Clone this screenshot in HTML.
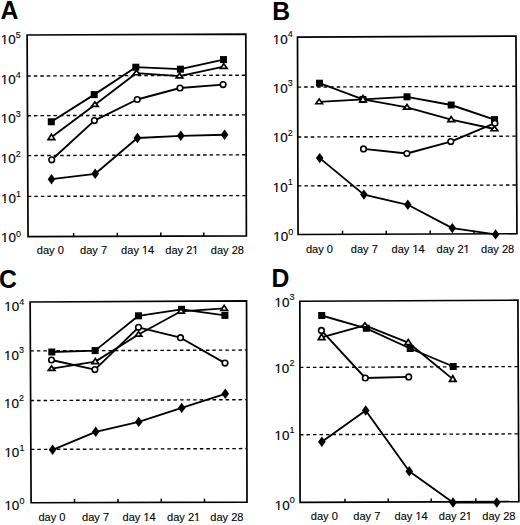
<!DOCTYPE html>
<html><head><meta charset="utf-8"><style>
html,body{margin:0;padding:0;background:#fff;}
body{width:520px;height:525px;overflow:hidden;}
svg{display:block;}
text{font-family:"Liberation Sans",sans-serif;fill:#000;}
.lt{font-size:25.8px;font-weight:bold;}
.yl{font-size:13.4px;stroke:#000;stroke-width:0.15px;}
.sup{font-size:9px;stroke-width:0.1px;}
.xl{font-size:11.4px;stroke:#000;stroke-width:0.12px;}
</style></head><body>
<svg width="520" height="525" viewBox="0 0 520 525">
<rect width="520" height="525" fill="#fff"/>
<defs><clipPath id="c10"><path clip-rule="evenodd" d="M-10 -30H60V10H-10Z M0.26 -1.35H3.29V3H0.26Z M4.63 -1.35H8.18V3H4.63Z"/></clipPath><clipPath id="c14"><path clip-rule="evenodd" d="M-10 -30H60V10H-10Z M21.74 -1.17H24.32V3H21.74Z M25.45 -1.17H29.31V3H25.45Z"/></clipPath><clipPath id="c21"><path clip-rule="evenodd" d="M-10 -30H60V10H-10Z M28.08 -1.17H30.67V3H28.08Z M31.79 -1.17H35.65V3H31.79Z"/></clipPath></defs><g>
<line x1="27.29" y1="76" x2="245.92" y2="75.2" stroke="#000" stroke-width="1.4" stroke-dasharray="3.5 3.0"/>
<line x1="27.48" y1="115.7" x2="246.04" y2="114.9" stroke="#000" stroke-width="1.4" stroke-dasharray="3.5 3.0"/>
<line x1="27.67" y1="155.6" x2="246.16" y2="154.8" stroke="#000" stroke-width="1.4" stroke-dasharray="3.5 3.0"/>
<line x1="27.86" y1="196.4" x2="246.28" y2="195.6" stroke="#000" stroke-width="1.4" stroke-dasharray="3.5 3.0"/>
<line x1="73.6" y1="236.43" x2="73.62" y2="232.93" stroke="#000" stroke-width="1.5"/>
<line x1="117.3" y1="236.27" x2="117.32" y2="232.77" stroke="#000" stroke-width="1.5"/>
<line x1="160.8" y1="236.11" x2="160.82" y2="232.61" stroke="#000" stroke-width="1.5"/>
<line x1="203.8" y1="235.96" x2="203.82" y2="232.46" stroke="#000" stroke-width="1.5"/>
<path d="M27.1 35L245.8 34.2L246.4 235.8L28.05 236.6Z" fill="none" stroke="#000" stroke-width="1.7" stroke-linejoin="miter"/>
<text transform="translate(0.6 19.1) scale(0.96 1)" class="lt">A</text>
<text transform="translate(0.8 43.9) scale(1 1)"  clip-path="url(#c10)" class="yl">10<tspan class="sup" dx="0.1" dy="-5.9">5</tspan></text>
<text transform="translate(0.8 83.8) scale(1 1)"  clip-path="url(#c10)" class="yl">10<tspan class="sup" dx="0.1" dy="-5.9">4</tspan></text>
<text transform="translate(0.8 122.7) scale(1 1)"  clip-path="url(#c10)" class="yl">10<tspan class="sup" dx="0.1" dy="-5.9">3</tspan></text>
<text transform="translate(0.8 162.6) scale(1 1)"  clip-path="url(#c10)" class="yl">10<tspan class="sup" dx="0.1" dy="-5.9">2</tspan></text>
<text transform="translate(1 202.6) scale(1 1)"  clip-path="url(#c10)" class="yl">10<tspan class="sup" dx="0.1" dy="-5.9">1</tspan></text>
<text transform="translate(1 242.4) scale(1 1)"  clip-path="url(#c10)" class="yl">10<tspan class="sup" dx="0.1" dy="-5.9">0</tspan></text>
<text transform="translate(36.75 253.6) scale(0.97 1)" class="xl">day 0</text>
<text transform="translate(80 253.6) scale(0.97 1)" class="xl">day 7</text>
<text transform="translate(121.1 253.6) scale(0.97 1)" clip-path="url(#c14)" class="xl">day 14</text>
<text transform="translate(165.25 253.6) scale(0.97 1)" clip-path="url(#c21)" class="xl">day 21</text>
<text transform="translate(210.75 253.6) scale(0.97 1)" class="xl">day 28</text>
<polyline points="51.5,179.2 95.2,173.8 137.4,138 180.8,135.8 224.6,134.75" fill="none" stroke="#000" stroke-width="1.85" stroke-linejoin="round"/>
<polyline points="51.3,121.75 94.2,94.6 135.8,67.2 180.4,69.2 223.5,59.6" fill="none" stroke="#000" stroke-width="1.85" stroke-linejoin="round"/>
<polyline points="51.4,137.35 94.9,104.7 136.5,73.05 179.5,76.15 223.8,66.6" fill="none" stroke="#000" stroke-width="1.85" stroke-linejoin="round"/>
<polyline points="51.75,159.8 94.4,120.6 137.2,99.5 180,88 223.1,84.6" fill="none" stroke="#000" stroke-width="1.85" stroke-linejoin="round"/>
<path d="M51.5 174L55.3 179.2L51.5 184.4L47.7 179.2Z" fill="#000"/>
<path d="M95.2 168.6L99 173.8L95.2 179L91.4 173.8Z" fill="#000"/>
<path d="M137.4 132.8L141.2 138L137.4 143.2L133.6 138Z" fill="#000"/>
<path d="M180.8 130.6L184.6 135.8L180.8 141L177 135.8Z" fill="#000"/>
<path d="M224.6 129.55L228.4 134.75L224.6 139.95L220.8 134.75Z" fill="#000"/>
<rect x="47.8" y="118.25" width="7" height="7" fill="#000"/>
<rect x="90.7" y="91.1" width="7" height="7" fill="#000"/>
<rect x="132.3" y="63.7" width="7" height="7" fill="#000"/>
<rect x="176.9" y="65.7" width="7" height="7" fill="#000"/>
<rect x="220" y="56.1" width="7" height="7" fill="#000"/>
<path d="M51.4 134.1L54.7 139.55L48.1 139.55Z" fill="#fff" stroke="#000" stroke-width="1.7" stroke-linejoin="miter"/>
<path d="M94.9 102L98.2 106.35L91.6 106.35Z" fill="#fff" stroke="#000" stroke-width="1.7" stroke-linejoin="miter"/>
<path d="M136.5 70.3L139.8 74.75L133.2 74.75Z" fill="#fff" stroke="#000" stroke-width="1.7" stroke-linejoin="miter"/>
<path d="M179.5 73.3L182.8 77.95L176.2 77.95Z" fill="#fff" stroke="#000" stroke-width="1.7" stroke-linejoin="miter"/>
<path d="M223.8 63.8L227.1 68.35L220.5 68.35Z" fill="#fff" stroke="#000" stroke-width="1.7" stroke-linejoin="miter"/>
<circle cx="51.75" cy="159.8" r="2.8" fill="#fff" stroke="#000" stroke-width="1.6"/>
<circle cx="94.4" cy="120.6" r="2.8" fill="#fff" stroke="#000" stroke-width="1.6"/>
<circle cx="137.2" cy="99.5" r="2.8" fill="#fff" stroke="#000" stroke-width="1.6"/>
<circle cx="180" cy="88" r="2.8" fill="#fff" stroke="#000" stroke-width="1.6"/>
<circle cx="223.1" cy="84.6" r="2.8" fill="#fff" stroke="#000" stroke-width="1.6"/>
</g>
<g>
<line x1="297.64" y1="87.1" x2="516.21" y2="86.23" stroke="#000" stroke-width="1.4" stroke-dasharray="3.5 3.0"/>
<line x1="297.78" y1="137" x2="516.46" y2="136.12" stroke="#000" stroke-width="1.4" stroke-dasharray="3.5 3.0"/>
<line x1="297.91" y1="185.9" x2="516.71" y2="185.02" stroke="#000" stroke-width="1.4" stroke-dasharray="3.5 3.0"/>
<line x1="342.5" y1="234.35" x2="342.52" y2="230.85" stroke="#000" stroke-width="1.5"/>
<line x1="386.25" y1="234.2" x2="386.27" y2="230.7" stroke="#000" stroke-width="1.5"/>
<line x1="430.2" y1="234.05" x2="430.22" y2="230.55" stroke="#000" stroke-width="1.5"/>
<line x1="474" y1="233.9" x2="474.02" y2="230.4" stroke="#000" stroke-width="1.5"/>
<path d="M297.5 37.05L515.95 36.05L516.95 233.75L298.05 234.5Z" fill="none" stroke="#000" stroke-width="1.7" stroke-linejoin="miter"/>
<text transform="translate(272.3 19.6) scale(0.96 1)" class="lt">B</text>
<text transform="translate(272.8 43.5) scale(1 1)"  clip-path="url(#c10)" class="yl">10<tspan class="sup" dx="0.1" dy="-6.8">4</tspan></text>
<text transform="translate(272.8 92.9) scale(1 1)"  clip-path="url(#c10)" class="yl">10<tspan class="sup" dx="0.1" dy="-6.8">3</tspan></text>
<text transform="translate(272.8 142.4) scale(1 1)"  clip-path="url(#c10)" class="yl">10<tspan class="sup" dx="0.1" dy="-6.8">2</tspan></text>
<text transform="translate(272.8 191.7) scale(1 1)"  clip-path="url(#c10)" class="yl">10<tspan class="sup" dx="0.1" dy="-6.8">1</tspan></text>
<text transform="translate(273.2 241.4) scale(1 1)"  clip-path="url(#c10)" class="yl">10<tspan class="sup" dx="0.1" dy="-6.8">0</tspan></text>
<text transform="translate(305.9 253) scale(0.97 1)" class="xl">day 0</text>
<text transform="translate(350.75 253) scale(0.97 1)" class="xl">day 7</text>
<text transform="translate(391.5 253) scale(0.97 1)" clip-path="url(#c14)" class="xl">day 14</text>
<text transform="translate(436.5 253) scale(0.97 1)" clip-path="url(#c21)" class="xl">day 21</text>
<text transform="translate(481 253) scale(0.97 1)" class="xl">day 28</text>
<polyline points="319.7,158.1 363.9,194.6 407.8,204.8 452.3,228.1 495.6,234.4" fill="none" stroke="#000" stroke-width="1.85" stroke-linejoin="round"/>
<polyline points="319.5,83.2 363,99.4 407,96.8 451.2,105 494.5,119.6" fill="none" stroke="#000" stroke-width="1.85" stroke-linejoin="round"/>
<polyline points="319.2,101.9 363,99.3 407,107.3 451.2,119.65 494.5,129" fill="none" stroke="#000" stroke-width="1.85" stroke-linejoin="round"/>
<polyline points="363.5,148.9 406.9,153.5 450.8,141.6 494.9,123.2" fill="none" stroke="#000" stroke-width="1.85" stroke-linejoin="round"/>
<path d="M319.7 152.9L323.5 158.1L319.7 163.3L315.9 158.1Z" fill="#000"/>
<path d="M363.9 189.4L367.7 194.6L363.9 199.8L360.1 194.6Z" fill="#000"/>
<path d="M407.8 199.6L411.6 204.8L407.8 210L404 204.8Z" fill="#000"/>
<path d="M452.3 222.9L456.1 228.1L452.3 233.3L448.5 228.1Z" fill="#000"/>
<path d="M495.6 229.2L499.4 234.4L495.6 239.6L491.8 234.4Z" fill="#000"/>
<rect x="316" y="79.7" width="7" height="7" fill="#000"/>
<rect x="359.5" y="95.9" width="7" height="7" fill="#000"/>
<rect x="403.5" y="93.3" width="7" height="7" fill="#000"/>
<rect x="447.7" y="101.5" width="7" height="7" fill="#000"/>
<rect x="491" y="116.1" width="7" height="7" fill="#000"/>
<path d="M319.2 99L322.5 103.75L315.9 103.75Z" fill="#fff" stroke="#000" stroke-width="1.7" stroke-linejoin="miter"/>
<path d="M363 95.6L366.3 101.95L359.7 101.95Z" fill="#fff" stroke="#000" stroke-width="1.7" stroke-linejoin="miter"/>
<path d="M407 104.4L410.3 109.15L403.7 109.15Z" fill="#fff" stroke="#000" stroke-width="1.7" stroke-linejoin="miter"/>
<path d="M451.2 116.6L454.5 121.65L447.9 121.65Z" fill="#fff" stroke="#000" stroke-width="1.7" stroke-linejoin="miter"/>
<path d="M494.5 126.2L497.8 130.75L491.2 130.75Z" fill="#fff" stroke="#000" stroke-width="1.7" stroke-linejoin="miter"/>
<circle cx="363.5" cy="148.9" r="2.8" fill="#fff" stroke="#000" stroke-width="1.6"/>
<circle cx="406.9" cy="153.5" r="2.8" fill="#fff" stroke="#000" stroke-width="1.6"/>
<circle cx="450.8" cy="141.6" r="2.8" fill="#fff" stroke="#000" stroke-width="1.6"/>
<circle cx="494.9" cy="123.2" r="2.8" fill="#fff" stroke="#000" stroke-width="1.6"/>
</g>
<g>
<line x1="30.38" y1="350.9" x2="246.66" y2="350.05" stroke="#000" stroke-width="1.4" stroke-dasharray="3.5 3.0"/>
<line x1="30.62" y1="400.5" x2="246.77" y2="399.65" stroke="#000" stroke-width="1.4" stroke-dasharray="3.5 3.0"/>
<line x1="30.85" y1="449.4" x2="246.88" y2="448.55" stroke="#000" stroke-width="1.4" stroke-dasharray="3.5 3.0"/>
<line x1="74.5" y1="502.62" x2="74.52" y2="499.12" stroke="#000" stroke-width="1.5"/>
<line x1="118" y1="502.49" x2="118.02" y2="498.99" stroke="#000" stroke-width="1.5"/>
<line x1="161.25" y1="502.36" x2="161.27" y2="498.86" stroke="#000" stroke-width="1.5"/>
<line x1="204.5" y1="502.23" x2="204.52" y2="498.73" stroke="#000" stroke-width="1.5"/>
<path d="M30.15 302L246.55 300.95L247 502.1L31.1 502.75Z" fill="none" stroke="#000" stroke-width="1.7" stroke-linejoin="miter"/>
<text transform="translate(-1 287.8) scale(0.96 1)" class="lt">C</text>
<text transform="translate(4.2 311.45) scale(1 1)"  clip-path="url(#c10)" class="yl">10<tspan class="sup" dx="0.1" dy="-6.3">4</tspan></text>
<text transform="translate(4 359.65) scale(1 1)"  clip-path="url(#c10)" class="yl">10<tspan class="sup" dx="0.1" dy="-6.3">3</tspan></text>
<text transform="translate(4 407.65) scale(1 1)"  clip-path="url(#c10)" class="yl">10<tspan class="sup" dx="0.1" dy="-6.3">2</tspan></text>
<text transform="translate(4.4 457.45) scale(1 1)"  clip-path="url(#c10)" class="yl">10<tspan class="sup" dx="0.1" dy="-6.3">1</tspan></text>
<text transform="translate(4.4 510.45) scale(1 1)"  clip-path="url(#c10)" class="yl">10<tspan class="sup" dx="0.1" dy="-6.3">0</tspan></text>
<text transform="translate(38.4 521.3) scale(0.97 1)" class="xl">day 0</text>
<text transform="translate(82 521.3) scale(0.97 1)" class="xl">day 7</text>
<text transform="translate(122.5 521.3) scale(0.97 1)" clip-path="url(#c14)" class="xl">day 14</text>
<text transform="translate(167 521.3) scale(0.97 1)" clip-path="url(#c21)" class="xl">day 21</text>
<text transform="translate(210.25 521.3) scale(0.97 1)" class="xl">day 28</text>
<polyline points="52.6,449.8 95.7,431.8 138.7,421.9 181.7,407.9 225.3,393.8" fill="none" stroke="#000" stroke-width="1.85" stroke-linejoin="round"/>
<polyline points="51.8,352 95.1,350.6 138.5,315.8 181.5,309.3 224.9,315.4" fill="none" stroke="#000" stroke-width="1.85" stroke-linejoin="round"/>
<polyline points="51.6,368.7 95.3,361.6 138.5,334.5 181,311.3 224.2,308.4" fill="none" stroke="#000" stroke-width="1.85" stroke-linejoin="round"/>
<polyline points="51.5,360 94.9,369.6 138.5,327.3 180.5,337.7 225,363.1" fill="none" stroke="#000" stroke-width="1.85" stroke-linejoin="round"/>
<path d="M52.6 444.6L56.4 449.8L52.6 455L48.8 449.8Z" fill="#000"/>
<path d="M95.7 426.6L99.5 431.8L95.7 437L91.9 431.8Z" fill="#000"/>
<path d="M138.7 416.7L142.5 421.9L138.7 427.1L134.9 421.9Z" fill="#000"/>
<path d="M181.7 402.7L185.5 407.9L181.7 413.1L177.9 407.9Z" fill="#000"/>
<path d="M225.3 388.6L229.1 393.8L225.3 399L221.5 393.8Z" fill="#000"/>
<rect x="48.3" y="348.5" width="7" height="7" fill="#000"/>
<rect x="91.6" y="347.1" width="7" height="7" fill="#000"/>
<rect x="135" y="312.3" width="7" height="7" fill="#000"/>
<rect x="178" y="305.8" width="7" height="7" fill="#000"/>
<rect x="221.4" y="311.9" width="7" height="7" fill="#000"/>
<path d="M51.6 365.9L54.9 370.45L48.3 370.45Z" fill="#fff" stroke="#000" stroke-width="1.7" stroke-linejoin="miter"/>
<path d="M95.3 358.5L98.6 363.65L92 363.65Z" fill="#fff" stroke="#000" stroke-width="1.7" stroke-linejoin="miter"/>
<path d="M138.5 331.8L141.8 336.15L135.2 336.15Z" fill="#fff" stroke="#000" stroke-width="1.7" stroke-linejoin="miter"/>
<path d="M181 308.5L184.3 313.05L177.7 313.05Z" fill="#fff" stroke="#000" stroke-width="1.7" stroke-linejoin="miter"/>
<path d="M224.2 305.4L227.5 310.35L220.9 310.35Z" fill="#fff" stroke="#000" stroke-width="1.7" stroke-linejoin="miter"/>
<circle cx="51.5" cy="360" r="2.8" fill="#fff" stroke="#000" stroke-width="1.6"/>
<circle cx="94.9" cy="369.6" r="2.8" fill="#fff" stroke="#000" stroke-width="1.6"/>
<circle cx="138.5" cy="327.3" r="2.8" fill="#fff" stroke="#000" stroke-width="1.6"/>
<circle cx="180.5" cy="337.7" r="2.8" fill="#fff" stroke="#000" stroke-width="1.6"/>
<circle cx="225" cy="363.1" r="2.8" fill="#fff" stroke="#000" stroke-width="1.6"/>
</g>
<g>
<line x1="299.92" y1="367.4" x2="518.22" y2="366.58" stroke="#000" stroke-width="1.4" stroke-dasharray="3.5 3.0"/>
<line x1="299.98" y1="434.7" x2="518.54" y2="433.87" stroke="#000" stroke-width="1.4" stroke-dasharray="3.5 3.0"/>
<line x1="345" y1="502.18" x2="345.02" y2="498.68" stroke="#000" stroke-width="1.5"/>
<line x1="388.25" y1="502.06" x2="388.27" y2="498.56" stroke="#000" stroke-width="1.5"/>
<line x1="431.25" y1="501.94" x2="431.27" y2="498.44" stroke="#000" stroke-width="1.5"/>
<line x1="475.8" y1="501.82" x2="475.82" y2="498.32" stroke="#000" stroke-width="1.5"/>
<path d="M299.85 301.25L517.9 300.2L518.86 501.7L300.05 502.3Z" fill="none" stroke="#000" stroke-width="1.7" stroke-linejoin="miter"/>
<text transform="translate(271.4 287.4) scale(0.96 1)" class="lt">D</text>
<text transform="translate(274.5 307.3) scale(1 1)"  clip-path="url(#c10)" class="yl">10<tspan class="sup" dx="0.1" dy="-7">3</tspan></text>
<text transform="translate(274.4 373.1) scale(1 1)"  clip-path="url(#c10)" class="yl">10<tspan class="sup" dx="0.1" dy="-7">2</tspan></text>
<text transform="translate(274.5 440) scale(1 1)"  clip-path="url(#c10)" class="yl">10<tspan class="sup" dx="0.1" dy="-7">1</tspan></text>
<text transform="translate(274.7 509.5) scale(1 1)"  clip-path="url(#c10)" class="yl">10<tspan class="sup" dx="0.1" dy="-7">0</tspan></text>
<text transform="translate(310.75 520.2) scale(0.97 1)" class="xl">day 0</text>
<text transform="translate(353.25 520.2) scale(0.97 1)" class="xl">day 7</text>
<text transform="translate(394.5 520.2) scale(0.97 1)" clip-path="url(#c14)" class="xl">day 14</text>
<text transform="translate(438.75 520.2) scale(0.97 1)" clip-path="url(#c21)" class="xl">day 21</text>
<text transform="translate(482.25 520.2) scale(0.97 1)" class="xl">day 28</text>
<polyline points="321.9,441.8 365.7,410.5 409.25,471.25 453,502.5 496.75,502.5" fill="none" stroke="#000" stroke-width="1.85" stroke-linejoin="round"/>
<polyline points="321.7,315.5 366.3,328.3 410.2,348.5 453.2,366.5" fill="none" stroke="#000" stroke-width="1.85" stroke-linejoin="round"/>
<polyline points="321.6,337.35 364.9,325.45 408.2,342.55 452.8,379.15" fill="none" stroke="#000" stroke-width="1.85" stroke-linejoin="round"/>
<polyline points="321.4,330.4 365.3,378 408.7,376.9" fill="none" stroke="#000" stroke-width="1.85" stroke-linejoin="round"/>
<path d="M321.9 436.6L325.7 441.8L321.9 447L318.1 441.8Z" fill="#000"/>
<path d="M365.7 405.3L369.5 410.5L365.7 415.7L361.9 410.5Z" fill="#000"/>
<path d="M409.25 466.05L413.05 471.25L409.25 476.45L405.45 471.25Z" fill="#000"/>
<path d="M453 497.3L456.8 502.5L453 507.7L449.2 502.5Z" fill="#000"/>
<path d="M496.75 497.3L500.55 502.5L496.75 507.7L492.95 502.5Z" fill="#000"/>
<rect x="318.2" y="312" width="7" height="7" fill="#000"/>
<rect x="362.8" y="324.8" width="7" height="7" fill="#000"/>
<rect x="406.7" y="345" width="7" height="7" fill="#000"/>
<rect x="449.7" y="363" width="7" height="7" fill="#000"/>
<path d="M321.6 334L324.9 339.65L318.3 339.65Z" fill="#fff" stroke="#000" stroke-width="1.7" stroke-linejoin="miter"/>
<path d="M364.9 322.9L368.2 326.95L361.6 326.95Z" fill="#fff" stroke="#000" stroke-width="1.7" stroke-linejoin="miter"/>
<path d="M408.2 339.5L411.5 344.55L404.9 344.55Z" fill="#fff" stroke="#000" stroke-width="1.7" stroke-linejoin="miter"/>
<path d="M452.8 375.8L456.1 381.45L449.5 381.45Z" fill="#fff" stroke="#000" stroke-width="1.7" stroke-linejoin="miter"/>
<circle cx="321.4" cy="330.4" r="2.8" fill="#fff" stroke="#000" stroke-width="1.6"/>
<circle cx="365.3" cy="378" r="2.8" fill="#fff" stroke="#000" stroke-width="1.6"/>
<circle cx="408.7" cy="376.9" r="2.8" fill="#fff" stroke="#000" stroke-width="1.6"/>
</g>
</svg>
</body></html>
